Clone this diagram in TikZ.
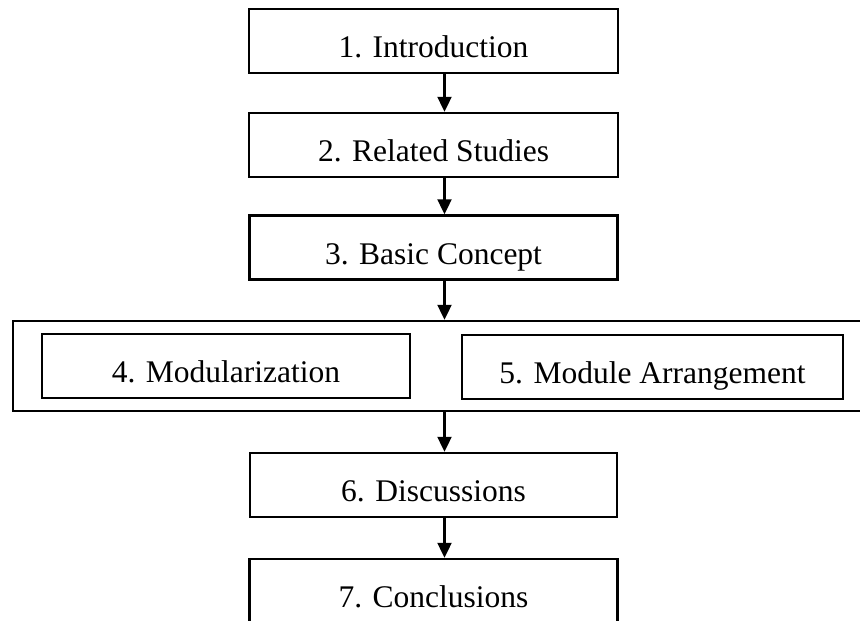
\documentclass[tikz,border=0pt]{standalone}
\usepackage{fontspec}
\setmainfont{Liberation Serif}
\usetikzlibrary{arrows.meta}

\begin{document}
\begin{tikzpicture}[x=1pt,y=-1pt,
  stage/.style={draw=black, line width=2.5pt, fill=white, rectangle,
    minimum height=64pt, inner sep=0pt,
    font=\fontsize{31.5}{36}\selectfont, text height=33pt, text depth=0pt},
  group/.style={draw=black, line width=2.5pt, rectangle, inner sep=0pt},
  flow/.style={line width=2.4pt, -{Triangle[width=14pt,length=15pt]}}
]
  \useasboundingbox (0,0) rectangle (860,621);
  \clip (0,0) rectangle (860,621);

  % column of chapter boxes
  \node[stage, minimum width=369pt] (b1) at (433.5,41)  {1. Introduction};
  \node[stage, minimum width=369pt] (b2) at (433.5,145) {2. Related Studies};
  \node[stage, minimum width=368pt] (b3) at (433.5,247.5) {3. Basic Concept};

  % frame holding chapters 4 and 5 side by side
  \node[group, minimum width=849pt, minimum height=90pt] (grp) at (437.5,366) {};
  \node[stage, minimum width=368pt] (b4) at (226,366)   {4. Modularization};
  \node[stage, minimum width=381pt] (b5) at (652.5,367) {5. Module Arrangement};

  \node[stage, minimum width=367pt] (b6) at (433.5,485) {6. Discussions};
  \node[stage, minimum width=368pt] (b7) at (433.5,591) {7. Conclusions};

  % vertical line the arrows run along
  \coordinate (ax) at (444.5,0);

  \draw[flow] (b1.south -| ax) -- (b2.north -| ax);
  \draw[flow] (b2.south -| ax) -- (b3.north -| ax);
  \draw[flow] (b3.south -| ax) -- (grp.north -| ax);
  \draw[flow] (grp.south -| ax) -- (b6.north -| ax);
  \draw[flow] (b6.south -| ax) -- (b7.north -| ax);
\end{tikzpicture}
\end{document}
